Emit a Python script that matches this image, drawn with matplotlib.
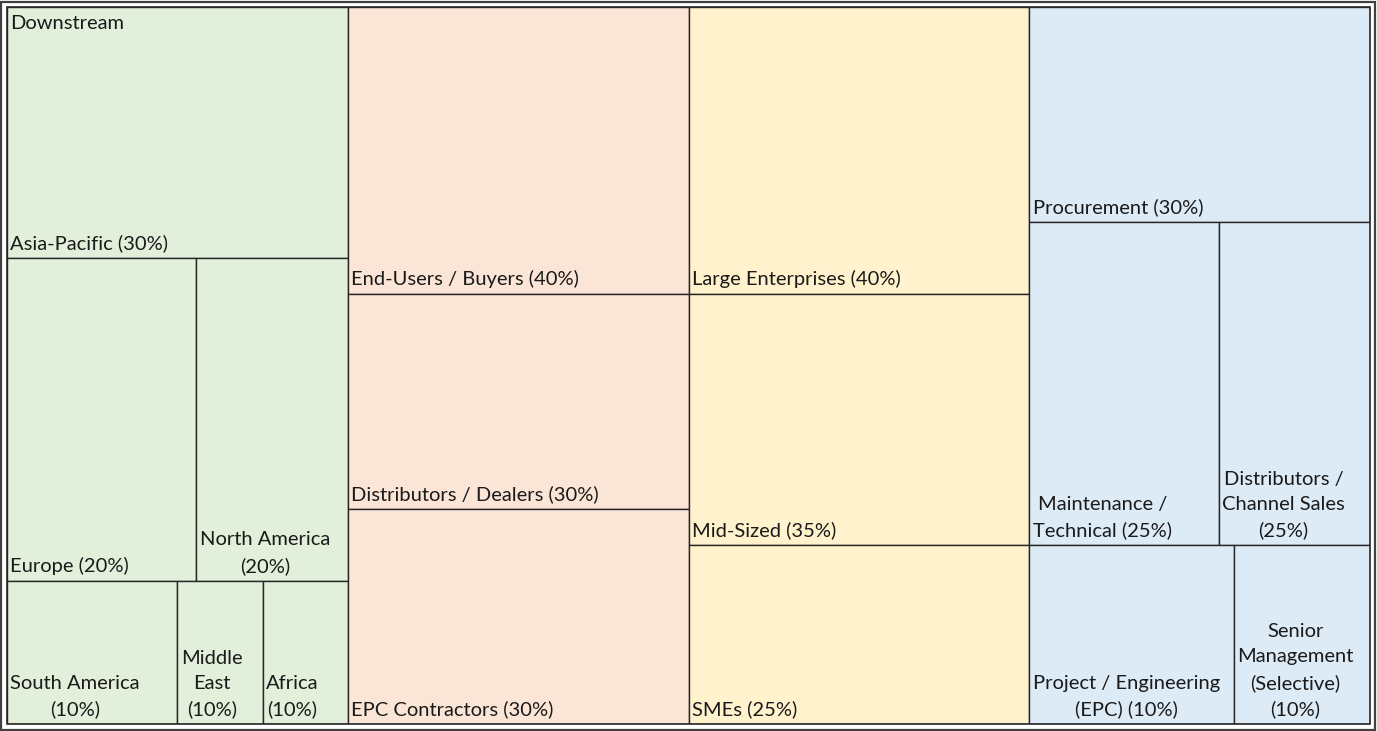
import matplotlib.pyplot as plt
from matplotlib.patches import Rectangle

# ----------------------------- data ------------------------------------------
# Each group is a column; each row within a group is a list of (label, value).
group_names = ["Downstream", "Channel", "Company Size", "Function"]
group_colors = ["#E2EFDA", "#FBE5D6", "#FFF2CC", "#DDEBF7"]
show_group_label = [True, False, False, False]

downstream_rows = [
    [("Asia-Pacific (30%)", 35)],
    [("Europe (20%)", 25), ("North America\n(20%)", 20)],
    [("South America\n(10%)", 10), ("Middle\nEast\n(10%)", 5), ("Africa\n(10%)", 5)],
]
channel_rows = [
    [("End-Users / Buyers (40%)", 40)],
    [("Distributors / Dealers (30%)", 30)],
    [("EPC Contractors (30%)", 30)],
]
size_rows = [
    [("Large Enterprises (40%)", 40)],
    [("Mid-Sized (35%)", 35)],
    [("SMEs (25%)", 25)],
]
function_rows = [
    [("Procurement (30%)", 30)],
    [("Maintenance /\nTechnical (25%)", 25), ("Distributors /\nChannel Sales\n(25%)", 20)],
    [("Project / Engineering\n(EPC) (10%)", 15), ("Senior\nManagement\n(Selective)\n(10%)", 10)],
]
groups = [downstream_rows, channel_rows, size_rows, function_rows]

# ----------------------------- style -----------------------------------------
font = "Lato"
font_size = 14.5
edge_color = "#262626"

W, H = 1377, 731
fig = plt.figure(figsize=(W / 100, H / 100), dpi=100)

# outer chart frame
fig.patches.append(Rectangle((1 / W, 1 / H), 1 - 3 / W, 1 - 3 / H,
                             transform=fig.transFigure, fill=False,
                             edgecolor="#404040", linewidth=1.6))

ax = fig.add_axes([7 / W, 7 / H, 1363 / W, 717 / H])
ax.set_xlim(0, 1)
ax.set_ylim(1, 0)
ax.axis("off")

grand_total = sum(v for g in groups for row in g for _, v in row)

x = 0.0
for gi, rows in enumerate(groups):
    g_total = sum(v for row in rows for _, v in row)
    g_width = g_total / grand_total
    y = 0.0
    for row in rows:
        r_total = sum(v for _, v in row)
        r_height = r_total / g_total
        cx = x
        for label, value in row:
            c_width = value / r_total * g_width
            ax.add_patch(Rectangle((cx, y), c_width, r_height,
                                   facecolor=group_colors[gi],
                                   edgecolor=edge_color, linewidth=1.0))
            ax.annotate(label, xy=(cx, y + r_height), xytext=(2.5, 4),
                        textcoords="offset points", ha="left", va="bottom",
                        multialignment="center", fontsize=font_size,
                        fontname=font, color="#1a1a1a", linespacing=1.58)
            cx += c_width
        y += r_height
    if show_group_label[gi]:
        ax.annotate(group_names[gi], xy=(x, 0), xytext=(2.5, -6),
                    textcoords="offset points", ha="left", va="top",
                    fontsize=font_size, fontname=font, color="#1a1a1a")
    x += g_width

# plot-area border
ax.add_patch(Rectangle((0, 0), 1, 1, fill=False, edgecolor=edge_color,
                       linewidth=1.2, clip_on=False))

fig.savefig("out.png", dpi=100)
